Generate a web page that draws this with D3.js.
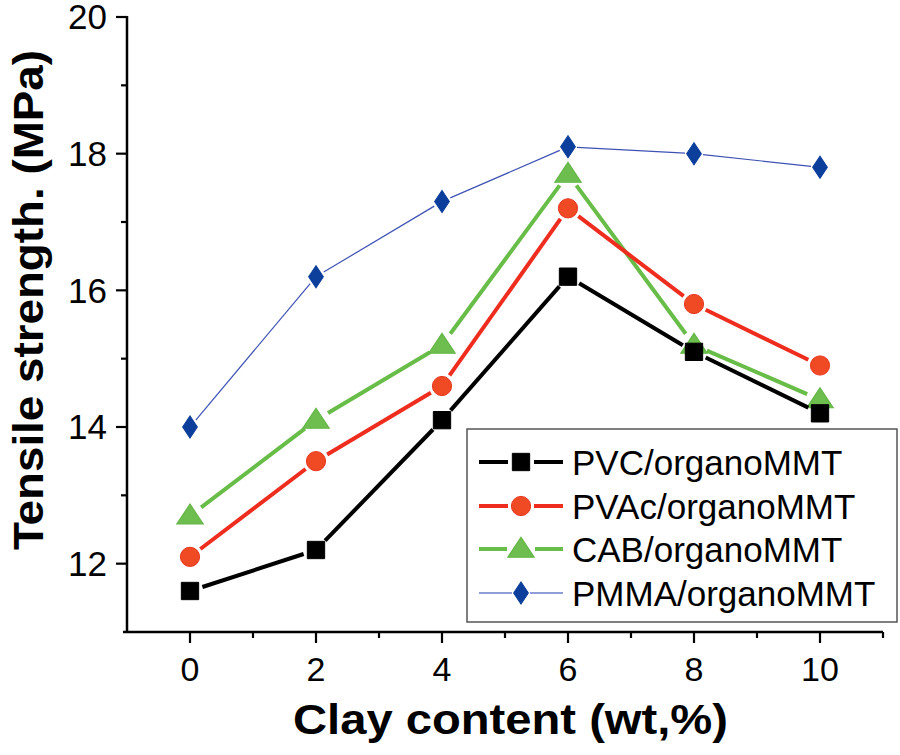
<!DOCTYPE html>
<html lang="en">
<head>
    <meta charset="UTF-8">
    <title>Tensile strength vs clay content</title>
    <script src="https://d3js.org/d3.v7.min.js"></script>
    <style>
        body { margin: 0; background: #fff; }
        text { font-family: "Liberation Sans", Arial, sans-serif; fill: #000; }
        .axis-line { stroke: #000; stroke-width: 2.5; fill: none; }
        .tick-line { stroke: #000; stroke-width: 2.2; }
    </style>
</head>
<body>
<script>
    // Data
    const clayContent = [0, 2, 4, 6, 8, 10];
    const pvc  = [11.6, 12.2, 14.1, 16.2, 15.1, 14.2];
    const pvac = [12.1, 13.5, 14.6, 17.2, 15.8, 14.9];
    const cab  = [12.7, 14.1, 15.2, 17.7, 15.2, 14.4];
    const pmma = [14.0, 16.2, 17.3, 18.1, 18.0, 17.8];
    const seriesNames = ["PVC/organoMMT", "PVAc/organoMMT", "CAB/organoMMT", "PMMA/organoMMT"];
    const xTicks = [0, 2, 4, 6, 8, 10];
    const yTicks = [12, 14, 16, 18, 20];

    const width = 900, height = 755;
    const svg = d3.select("body").append("svg")
        .attr("width", width)
        .attr("height", height);

    const x = d3.scaleLinear().domain([-1, 11]).range([127, 883]);
    const y = d3.scaleLinear().domain([11, 20]).range([632, 17]);

    // line / marker styles per series
    const series = [
        { name: seriesNames[0], values: pvc,  line: "#000", lw: 4,   fill: "#000",    stroke: "#000",    shape: d3.symbolSquare,   size: 300, gap: 13 },
        { name: seriesNames[1], values: pvac, line: "#ee2d1f", lw: 4, fill: "#f04a24", stroke: "#e8361f", shape: d3.symbolCircle, size: 290, gap: 13 },
        { name: seriesNames[2], values: cab,  line: "#68bd48", lw: 4, fill: "#6dbd4f", stroke: "#63b545", shape: d3.symbolTriangle, size: 230, gap: 14 },
        { name: seriesNames[3], values: pmma, line: "#3f52b4", lw: 1.2, fill: "#0c3e9b", stroke: "#0c3e9b", shape: d3.symbolDiamond, size: 140, gap: 9 }
    ];

    // draw a segment shortened at both ends (Origin style gap to symbol)
    function gappedSegment(g, x1, y1, x2, y2, gap, s) {
        const dx = x2 - x1, dy = y2 - y1, len = Math.hypot(dx, dy);
        if (len <= 2 * gap) return;
        const ux = dx / len, uy = dy / len;
        g.append("line")
            .attr("x1", x1 + ux * gap).attr("y1", y1 + uy * gap)
            .attr("x2", x2 - ux * gap).attr("y2", y2 - uy * gap)
            .attr("stroke", s.line)
            .attr("stroke-width", s.lw);
    }

    function drawMarker(g, cx, cy, s) {
        const sym = d3.symbol().type(s.shape).size(s.size);
        let t = `translate(${cx},${cy})`;
        if (s.shape === d3.symbolDiamond) t += " scale(1.15,1)";
        if (s.shape === d3.symbolTriangle) t += " scale(1.15,1) translate(0,1.5)";
        g.append("path")
            .attr("d", sym())
            .attr("transform", t)
            .attr("fill", s.fill)
            .attr("stroke", s.stroke)
            .attr("stroke-width", 1);
    }

    // Axes
    const axes = svg.append("g");
    axes.append("line").attr("class", "axis-line")
        .attr("x1", x(-1)).attr("x2", x(-1)).attr("y1", y(20) - 1).attr("y2", y(11) + 1);
    axes.append("line").attr("class", "axis-line")
        .attr("x1", x(-1) - 4).attr("x2", x(11)).attr("y1", y(11)).attr("y2", y(11));

    // y ticks (major + minor, outward)
    d3.range(11, 20.01, 1).forEach(v => {
        const major = yTicks.includes(v);
        if (v === 11) return;
        axes.append("line").attr("class", "tick-line")
            .attr("x1", x(-1)).attr("x2", x(-1) - (major ? 11 : 6))
            .attr("y1", y(v)).attr("y2", y(v));
    });
    yTicks.forEach(v => {
        axes.append("text")
            .attr("x", 107).attr("y", y(v))
            .attr("dy", "0.35em")
            .attr("text-anchor", "end")
            .attr("font-size", 35)
            .text(v);
    });

    // x ticks
    d3.range(-1, 11.01, 1).forEach(v => {
        const major = xTicks.includes(v);
        if (v === -1) return;
        axes.append("line").attr("class", "tick-line")
            .attr("x1", x(v)).attr("x2", x(v))
            .attr("y1", y(11)).attr("y2", y(11) + (major ? 11 : 6));
    });
    xTicks.forEach(v => {
        axes.append("text")
            .attr("x", x(v)).attr("y", 681)
            .attr("text-anchor", "middle")
            .attr("font-size", 34)
            .text(v);
    });

    // axis titles
    svg.append("text")
        .attr("x", 293).attr("y", 734)
        .attr("font-size", 42)
        .attr("font-weight", "bold")
        .attr("textLength", 435)
        .attr("lengthAdjust", "spacingAndGlyphs")
        .text("Clay content (wt,%)");

    svg.append("text")
        .attr("transform", "translate(43,300) rotate(-90)")
        .attr("text-anchor", "middle")
        .attr("font-size", 42)
        .attr("font-weight", "bold")
        .attr("textLength", 500)
        .attr("lengthAdjust", "spacingAndGlyphs")
        .text("Tensile strength. (MPa)");

    // series (drawn so black ends up on top like the reference)
    const plot = svg.append("g");
    [series[3], series[2], series[1], series[0]].forEach(s => {
        const g = plot.append("g");
        for (let i = 0; i < clayContent.length - 1; i++) {
            gappedSegment(g, x(clayContent[i]), y(s.values[i]),
                x(clayContent[i + 1]), y(s.values[i + 1]), s.gap, s);
        }
        clayContent.forEach((c, i) => drawMarker(g, x(c), y(s.values[i]), s));
    });

    // Legend
    const legend = svg.append("g");
    legend.append("rect")
        .attr("x", 467).attr("y", 429)
        .attr("width", 430).attr("height", 193)
        .attr("fill", "#fff")
        .attr("stroke", "#555")
        .attr("stroke-width", 1.5);

    const rowY = [462, 506, 549, 593];
    series.forEach((s, i) => {
        const g = legend.append("g");
        const cy = rowY[i];
        const ls = Object.assign({}, s, s === series[3] ? { line: "#6a7ccc", lw: 1.5 } : {});
        gappedSegment(g, 479, cy, 521, cy, 0, ls);
        gappedSegment(g, 521, cy, 563, cy, 0, ls);
        // clear the middle so the line stops at the marker
        g.selectAll("line").each(function (d, j) {
            const el = d3.select(this);
            if (j === 0) el.attr("x2", 521 - s.gap);
            else el.attr("x1", 521 + s.gap);
        });
        drawMarker(g, 521, cy, s);
        g.append("text")
            .attr("x", 572).attr("y", cy + 12.5)
            .attr("font-size", 35)
            .text(s.name);
    });
</script>
</body>
</html>
